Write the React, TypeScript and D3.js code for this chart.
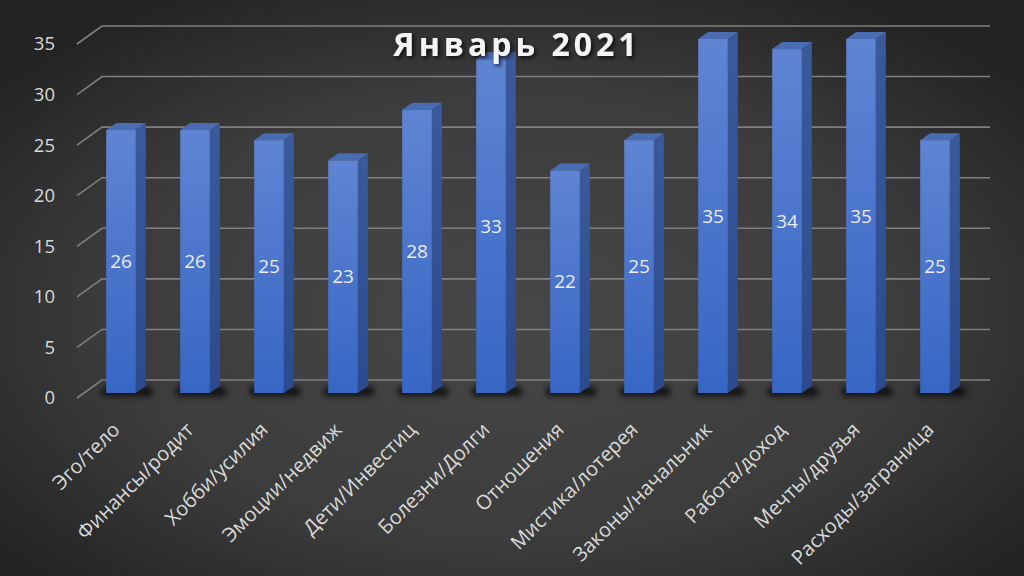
import * as d3 from "d3";

const categories = [
  "Эго/тело",
  "Финансы/родит",
  "Хобби/усилия",
  "Эмоции/недвиж",
  "Дети/Инвестиц",
  "Болезни/Долги",
  "Отношения",
  "Мистика/лотерея",
  "Законы/начальник",
  "Работа/доход",
  "Мечты/друзья",
  "Расходы/заграница",
];
const values = [26, 26, 25, 23, 28, 33, 22, 25, 35, 34, 35, 25];
const yTicks = [0, 5, 10, 15, 20, 25, 30, 35];
const title = "Январь 2021";

const width = 1024;
const height = 576;
// back wall of the 3D plot
const wallLeft = 102;
const wallRight = 990;
const wallTop = 26;
const wallBottom = 380;
// floor depth (front -> back)
const depthX = 25;
const depthY = 18;
// bar depth
const barDX = 10;
const barDY = 7;
const barFrontOffset = 13;

export default function App() {
  const x = d3
    .scaleBand<string>()
    .domain(categories)
    .range([84, 972])
    .paddingInner(0.6)
    .paddingOuter(0.3);
  const y = d3.scaleLinear().domain([0, 35]).range([wallBottom, wallTop]);
  const bw = x.bandwidth();

  return (
    <svg
      width={width}
      height={height}
      style={{ position: "absolute", left: 0, top: 0 }}
      fontFamily="'Open Sans', sans-serif"
    >
      <defs>
        <radialGradient id="bg" cx="0.5" cy="0.55" r="0.65">
          <stop offset="0" stopColor="#474747" />
          <stop offset="0.6" stopColor="#3c3c3c" />
          <stop offset="1" stopColor="#232323" />
        </radialGradient>
        <linearGradient id="front" x1="0" y1="0" x2="0" y2="1">
          <stop offset="0" stopColor="#5f84d3" />
          <stop offset="1" stopColor="#3766c5" />
        </linearGradient>
        <linearGradient id="side" x1="0" y1="0" x2="0" y2="1">
          <stop offset="0" stopColor="#3b5a9c" />
          <stop offset="1" stopColor="#2b4b8e" />
        </linearGradient>
        <filter id="blur" x="-50%" y="-200%" width="200%" height="500%">
          <feGaussianBlur stdDeviation="3" />
        </filter>
        <filter id="tshadow" x="-10%" y="-30%" width="120%" height="160%">
          <feDropShadow dx="2" dy="2" stdDeviation="2" floodColor="#000" floodOpacity="0.8" />
        </filter>
      </defs>
      <rect width={width} height={height} fill="url(#bg)" />

      {/* gridlines */}
      <g stroke="#808080" strokeWidth={1.6} fill="none">
        {yTicks.map((t) => (
          <path
            key={t}
            d={`M${wallLeft - depthX},${y(t) + depthY}L${wallLeft},${y(t)}H${wallRight}`}
          />
        ))}
      </g>

      {/* y labels */}
      <g fill="#d9d9d9" fontSize={18.5} textAnchor="end">
        {yTicks.map((t) => (
          <text key={t} x={55} y={y(t) + depthY} dy="0.35em">
            {t}
          </text>
        ))}
      </g>

      {/* bar shadows */}
      <g fill="#000" opacity={0.75} filter="url(#blur)">
        {categories.map((c) => (
          <rect
            key={c}
            x={(x(c) ?? 0) - 4}
            y={y(0) + barFrontOffset - 6}
            width={bw + barDX + 10}
            height={9}
          />
        ))}
      </g>

      {/* bars */}
      {categories.map((c, i) => {
        const x0 = x(c) ?? 0;
        const x1 = x0 + bw;
        const yTop = y(values[i]) + barFrontOffset;
        const yBot = y(0) + barFrontOffset;
        return (
          <g key={c}>
            <path
              d={`M${x1},${yTop}L${x1 + barDX},${yTop - barDY}V${yBot - barDY}L${x1},${yBot}Z`}
              fill="url(#side)"
            />
            <path
              d={`M${x0},${yTop}L${x0 + barDX},${yTop - barDY}H${x1 + barDX}L${x1},${yTop}Z`}
              fill="#4a6cb3"
            />
            <rect x={x0} y={yTop} width={bw} height={yBot - yTop} fill="url(#front)" />
            <text
              x={x0 + bw / 2}
              y={(yTop + yBot) / 2}
              dy="0.35em"
              textAnchor="middle"
              fill="#ececec"
              fontSize={19}
            >
              {values[i]}
            </text>
          </g>
        );
      })}

      {/* x labels */}
      <g fill="#d9d9d9" fontSize={20} textAnchor="end">
        {categories.map((c) => {
          const cx = (x(c) ?? 0) + bw / 2;
          return (
            <text key={c} transform={`translate(${cx},${431}) rotate(-45)`}>
              {c}
            </text>
          );
        })}
      </g>

      <text
        x={517}
        y={45}
        dy="0.35em"
        textAnchor="middle"
        fill="#f4f4f4"
        fontSize={32}
        fontWeight="bold"
        letterSpacing={4}
        fontFamily="'Open Sans', sans-serif"
        filter="url(#tshadow)"
      >
        {title}
      </text>
    </svg>
  );
}
